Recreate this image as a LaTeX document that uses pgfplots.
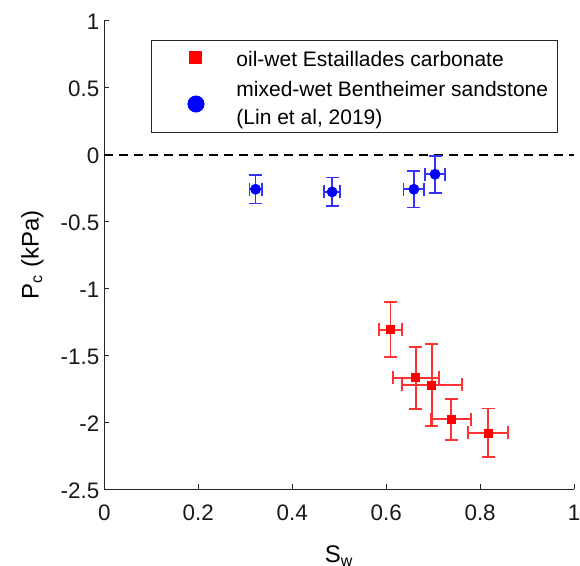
\documentclass[border=0pt]{standalone}
\usepackage{fontspec}
\setmainfont{Liberation Sans}
\usepackage{pgfplots}
\pgfplotsset{compat=1.18}
\usepackage{pgfplotstable}

\pgfplotstableread{
x y ex ey
0.609 -1.308 0.025 0.204
0.663 -1.668 0.049 0.231
0.697 -1.721 0.064 0.305
0.738 -1.977 0.043 0.153
0.817 -2.079 0.043 0.182
}\redtab

\pgfplotstableread{
x y ex ey
0.322 -0.259 0.013 0.106
0.485 -0.279 0.017 0.108
0.659 -0.259 0.022 0.137
0.704 -0.147 0.021 0.138
}\bluetab

\begin{document}
\begin{tikzpicture}
\begin{axis}[
  name=ax,
  scale only axis,
  width=234.9pt, height=234.3pt,
  xmin=0, xmax=1, ymin=-2.5, ymax=1,
  axis lines*=left,
  axis line style={line width=0.5pt, black!85},
  tick style={line width=0.5pt, black!85},
  tick align=inside,
  major tick length=2.5pt,
  xtick={0,0.2,0.4,0.6,0.8,1},
  ytick={-2.5,-2,-1.5,-1,-0.5,0,0.5,1},
  xticklabels={0,0.2,0.4,0.6,0.8,1},
  yticklabels={-2.5,-2,-1.5,-1,-0.5,0,0.5,1},
  ticklabel style={font=\fontsize{11.2}{13}\selectfont, text=black!90},
  xticklabel style={yshift=-4.5pt},
  yticklabel style={xshift=1pt, yshift=-0.8pt},
  xlabel={S\textsubscript{w}},
  ylabel={P\textsubscript{c} (kPa)},
  label style={font=\fontsize{12}{14}\selectfont},
  xlabel style={at={(axis description cs:0.5,-0.1565)}, anchor=base},
  ylabel style={at={(axis description cs:-0.14,0.5)}, anchor=base},
  legend style={at={(0.0994,0.9588)}, anchor=north west, draw=black!85, line width=0.5pt,
    font=\fontsize{10.5}{14}\selectfont, cells={anchor=west, align=left},
    inner xsep=2.75pt, inner ysep=0.5pt, row sep=1.5pt},
  legend image code/.code={\path (0pt,0pt) (37.25pt,0pt);
    \draw[#1] plot coordinates {(19.25pt,0pt)};},
]
\addplot[black, line width=1pt, dash pattern=on 4.5pt off 3pt, forget plot] coordinates {(0,0) (1,0)};

\addplot[only marks, mark=square*, mark size=2pt, color=red, mark options={fill=red, draw=red},
  legend image post style={mark size=3pt},
  error bars/.cd, x dir=both, x explicit, y dir=both, y explicit,
  error bar style={line width=0.9pt, draw=red!80},
  error mark options={rotate=90, draw=red!80, mark size=3.25pt, line width=0.9pt}]
  table[x=x, y=y, x error=ex, y error=ey] {\redtab};
\addlegendentry{\rule{0pt}{10.7pt}oil-wet Estaillades carbonate}

\addplot[only marks, mark=*, mark size=2.5pt, color=blue, mark options={fill=blue, draw=blue},
  legend image post style={mark size=4pt},
  error bars/.cd, x dir=both, x explicit, y dir=both, y explicit,
  error bar style={line width=0.9pt, draw=blue!80},
  error mark options={rotate=90, draw=blue!80, mark size=3.25pt, line width=0.9pt}]
  table[x=x, y=y, x error=ex, y error=ey] {\bluetab};
\addlegendentry{mixed-wet Bentheimer sandstone\\(Lin et al, 2019)}
\end{axis}
\pgfresetboundingbox
\path ([shift={(-52.15pt,-38.35pt)}]ax.south west) rectangle ([shift={(237.85pt,244.65pt)}]ax.south west);
\end{tikzpicture}
\end{document}
